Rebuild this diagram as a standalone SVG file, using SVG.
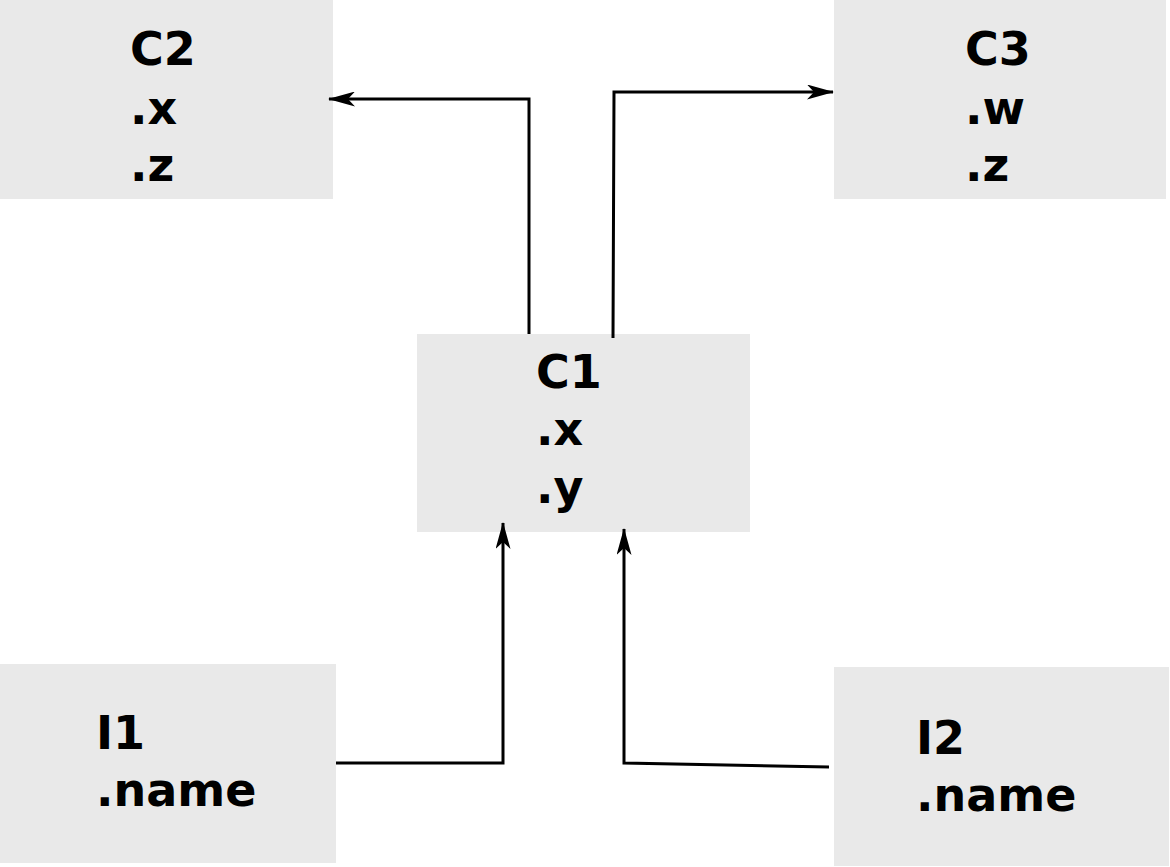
<svg xmlns="http://www.w3.org/2000/svg" width="1170" height="867" viewBox="0 0 1170 867">
<style>
.box{fill:#e9e9e9;stroke:none}
.t{font-family:"DejaVu Sans",sans-serif;font-weight:bold;font-size:46px;fill:#000}
.c{fill:none;stroke:#000;stroke-width:3}
</style>
<defs>
<marker id="arr" viewBox="0 0 27 15" refX="26" refY="7.5" markerWidth="27" markerHeight="15" markerUnits="userSpaceOnUse" orient="auto">
<path d="M0,0 L27,7.5 L0,15 L7,7.5 Z" fill="#000"/>
</marker>
</defs>
<rect width="1170" height="867" fill="#fff"/>
<g id="C2"><rect class="box" x="0" y="0" width="333" height="199"/>
<text class="t" x="130" y="65">C2</text><text class="t" x="130" y="124">.x</text><text class="t" x="130" y="181">.z</text></g>
<g id="C3"><rect class="box" x="834" y="0" width="332" height="199"/>
<text class="t" x="965" y="65">C3</text><text class="t" x="965" y="124">.w</text><text class="t" x="965" y="181">.z</text></g>
<g id="C1"><rect class="box" x="417" y="334" width="333" height="198"/>
<text class="t" x="536" y="388">C1</text><text class="t" x="536" y="445">.x</text><text class="t" x="536" y="503">.y</text></g>
<g id="I1"><rect class="box" x="0" y="664" width="336" height="199"/>
<text class="t" x="96" y="749">I1</text><text class="t" x="96" y="806">.name</text></g>
<g id="I2"><rect class="box" x="834" y="667" width="335" height="199"/>
<text class="t" x="916" y="754">I2</text><text class="t" x="916" y="811">.name</text></g>
<g id="connectors">
<path class="c" d="M529,334 L529,99 L329,99" marker-end="url(#arr)"/>
<path class="c" d="M613,338 L614,92 L833,92" marker-end="url(#arr)"/>
<path class="c" d="M336,763 L503,763 L503,523" marker-end="url(#arr)"/>
<path class="c" d="M829,767 L624,763 L624,529" marker-end="url(#arr)"/>
</g>
</svg>
